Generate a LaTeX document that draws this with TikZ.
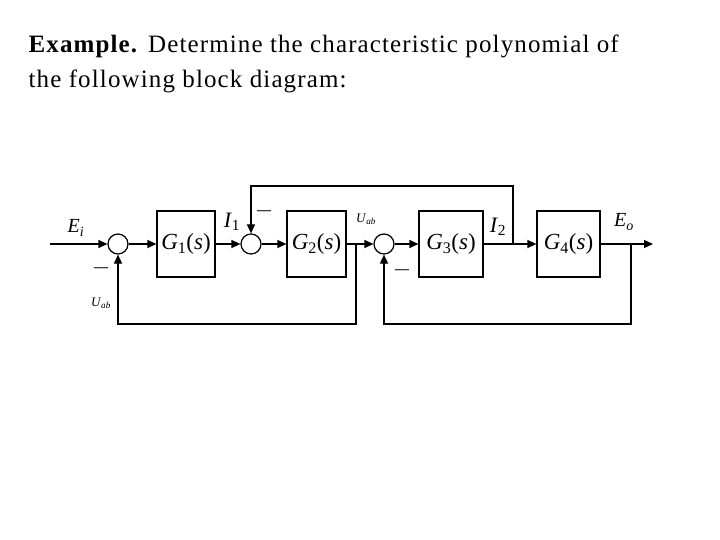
\documentclass[tikz,border=0pt]{standalone}
\usepackage{fontspec}
\setmainfont{Liberation Serif}
\usetikzlibrary{arrows.meta, positioning, calc}

\newcommand{\sig}[2]{\textit{#1}\textsubscript{\textit{#2}}}
\newcommand{\tf}[1]{\textit{G}\textsubscript{#1}(\textit{s})}

\begin{document}
\begin{tikzpicture}[x=1pt, y=-1pt, >={Triangle[length=9pt, width=8pt]},
    line width=1.2pt,
    block/.style={draw, minimum width=58pt, minimum height=66pt,
                  inner sep=0pt, font=\fontsize{23}{23}\selectfont},
    sumnode/.style={draw, circle, minimum size=20pt, inner sep=0pt},
    lbl/.style={font=\fontsize{20}{20}\selectfont, inner sep=0pt},
    small/.style={font=\fontsize{13}{13}\selectfont, inner sep=0pt},
    minus/.style={font=\fontsize{14}{14}\selectfont\bfseries, inner sep=0pt},
    title/.style={anchor=base west, inner sep=0pt,
                  font=\fontsize{25}{25}\selectfont\addfontfeature{LetterSpace=4.5}}]
  \useasboundingbox (0,0) rectangle (720,540);

  % title
  \node[title] (title1) at (28,53)
    {\textbf{Example.} Determine the characteristic polynomial of};
  \node[title] (title2) at (28,88) {the following block diagram:};

  % summing points and blocks
  \node[sumnode] (s1) at (118,244) {};
  \node[block] (g1) at (186,244) {\tf{1}};
  \node[sumnode] (s2) at (251,244) {};
  \node[block, minimum width=59pt] (g2) at (316.5,244) {\tf{2}};
  \node[sumnode] (s3) at (384,244) {};
  \node[block, minimum width=64pt] (g3) at (451,244) {\tf{3}};
  \node[block, minimum width=63pt] (g4) at (568.5,244) {\tf{4}};

  \coordinate (in) at (50,244);
  \coordinate (out) at (653,244);
  \coordinate (b2) at (356,244);
  \coordinate (j2) at (513,244);
  \coordinate (b4) at (631,244);

  % forward path
  \draw[->] (in) -- (s1);
  \draw[->] (s1) -- (g1);
  \draw[->] (g1) -- (s2);
  \draw[->] (s2) -- (g2);
  \draw[->] (g2) -- (s3);
  \draw[->] (s3) -- (g3);
  \draw[->] (g3) -- (g4);
  \draw[->] (g4) -- (out);

  % feedback paths
  \draw[->] (b2) -- ($(b2)+(0,80)$) -| (s1.south);
  \draw[->] (b4) -- ($(b4)+(0,80)$) -| (s3.south);
  \draw[->] (j2) -- ($(j2)+(0,-58)$) -| (s2.north);

  % labels
  \node[lbl] (ei) at (76,228) {\sig{E}{i}};
  \node[minus] (m1) at (101,270) {\textemdash};
  \node[small] (uab1) at (101,303) {\sig{U}{ab}};
  \node[lbl, font=\fontsize{22}{22}\selectfont] (i1) at (232,222) {\textit{I}\textsubscript{1}};
  \node[minus] (m2) at (264,213) {\textemdash};
  \node[small] (uab2) at (366,219) {\sig{U}{ab}};
  \node[minus] (m3) at (402,272) {\textemdash};
  \node[lbl, font=\fontsize{22}{22}\selectfont] (i2) at (498,227) {\textit{I}\textsubscript{2}};
  \node[lbl] (eo) at (624,222) {\sig{E}{o}};
\end{tikzpicture}
\end{document}
